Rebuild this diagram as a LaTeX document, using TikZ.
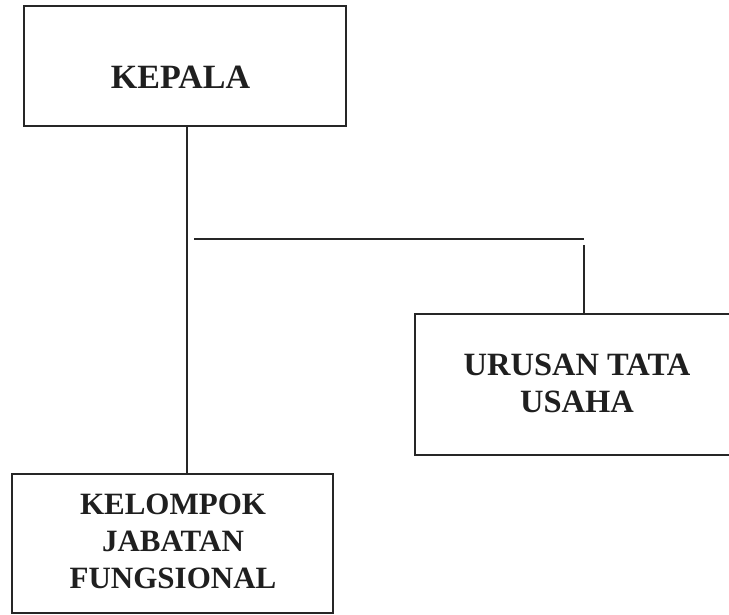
\documentclass[tikz,border=0pt]{standalone}
\usepackage{fontspec}
\setmainfont{Liberation Serif}
\begin{document}
\begin{tikzpicture}[x=1pt,y=-1pt,
  box/.style={draw=black!85,line width=1.9pt,inner sep=0pt,minimum width=#1},
  lbl/.style={text=black!88,font=\fontsize{31}{37}\selectfont\bfseries,align=center,inner sep=0pt},
  conn/.style={draw=black!85,line width=1.9pt}]
\useasboundingbox (0,0) rectangle (729,615);
\node[box=322pt,minimum height=120pt] (kepala) at (185,66) {};
\node[lbl,font=\fontsize{34}{37}\selectfont\bfseries] (tkepala) at (180.5,77) {KEPALA};
\node[box=324pt,minimum height=141pt] (urusan) at (577,384.5) {};
\node[lbl,font=\fontsize{32.5}{37}\selectfont\bfseries] (turusan) at (577,383) {URUSAN TATA\\USAHA};
\node[box=321pt,minimum height=139pt] (kelompok) at (172.5,543.5) {};
\node[lbl] (tkelompok) at (173,541) {KELOMPOK\\JABATAN\\FUNGSIONAL};
\coordinate (vx) at (187,0);
\coordinate (hl) at (194,239);
\coordinate (hr) at (584,239);
\coordinate (vr) at (584,245);
\draw[conn] (kepala.south -| vx) -- (kelompok.north -| vx);
\draw[conn] (hl) -- (hr);
\draw[conn] (vr) -- (urusan.north -| vr);
\end{tikzpicture}
\end{document}
